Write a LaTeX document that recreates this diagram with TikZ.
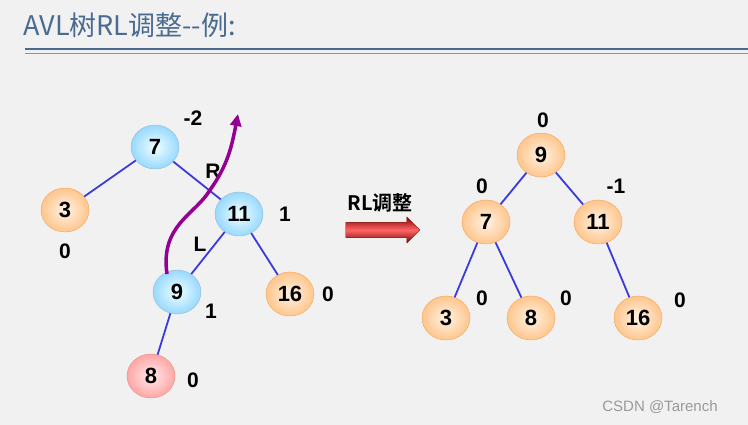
\documentclass[tikz,border=0pt]{standalone}
\usepackage{fontspec}
\setmainfont{Liberation Sans}
\newfontfamily\cjk{Noto Sans CJK SC}
\newfontfamily\cjkb{Noto Sans CJK SC Bold}
\usetikzlibrary{shapes.geometric,arrows.meta,shapes.arrows}
\definecolor{bg}{HTML}{F1F1F1}
\definecolor{titleblue}{HTML}{4A6A90}
\definecolor{edge}{HTML}{3A3ADF}
\tikzset{
  nd/.style={ellipse,minimum width=48pt,minimum height=44pt,inner sep=0pt,font=\fontsize{22}{22}\selectfont\bfseries},
  bluen/.style={nd,draw=cyan!40!gray!70,inner color=white!60!cyan!15,outer color=cyan!30!white!85!blue},
  orangen/.style={nd,draw=orange!70!brown!70,inner color=orange!10,outer color=orange!45},
  pinkn/.style={nd,draw=red!50!brown!60,inner color=red!8,outer color=red!35},
  lbl/.style={font=\fontsize{21}{21}\selectfont\bfseries},
  ed/.style={draw=edge,line width=1.8pt}
}
\begin{document}
\begin{tikzpicture}[x=1pt,y=-1pt]
\fill[bg] (0,0) rectangle (748,425);
\useasboundingbox (0,0) rectangle (748,425);
\node[anchor=west,text=titleblue,font=\cjk\fontsize{27}{27}\selectfont] (title) at (20,25) {AVL树RL调整--例:};
\draw[titleblue,line width=1.3pt] (25,49) -- (748,49);
\draw[titleblue!70,line width=0.6pt] (25,53.5) -- (748,53.5);
% left tree
\node[bluen] (a7) at (155,147) {7};
\node[orangen] (a3) at (65,210) {3};
\node[bluen] (a11) at (239,214) {11};
\node[bluen] (a9) at (177,292) {9};
\node[orangen] (a16) at (290,294) {16};
\node[pinkn] (a8) at (151,376) {8};
\path[ed] (a7) -- (a3);
\path[ed] (a7) -- (a11);
\path[ed] (a11) -- (a9);
\path[ed] (a11) -- (a16);
\path[ed] (a9) -- (a8);
\node[lbl] (l1) at (193,118) {-2};
\node[lbl] (l2) at (213,171) {R};
\node[lbl] (l3) at (285,214) {1};
\node[lbl] (l4) at (200,244) {L};
\node[lbl] (l5) at (65,251) {0};
\node[lbl] (l6) at (211,311) {1};
\node[lbl] (l7) at (328,294) {0};
\node[lbl] (l8) at (193,380) {0};
\coordinate (ps) at (167,274);
\coordinate (pe) at (238,114);
\draw[draw=violet!85!magenta,line width=3.5pt,-{Triangle[length=12pt,width=11pt]}] (ps) .. controls (160,225) and (195,215) .. (210,190) .. controls (228,165) and (232,145) .. (pe);
% arrow
\node[font=\cjkb\fontsize{20}{20}\selectfont] (rl) at (380,203) {RL调整};
\node[single arrow,draw=red!50!black,top color=red!55!black,bottom color=red!50!black,middle color=red!60,minimum height=74pt,minimum width=26pt,single arrow head extend=3pt,inner sep=4pt] (arr) at (379,230) {};
% right tree
\node[orangen] (b9) at (541,155) {9};
\node[orangen] (b7) at (486,222) {7};
\node[orangen] (b11) at (598,222) {11};
\node[orangen] (b3) at (446,318) {3};
\node[orangen] (b8) at (531,318) {8};
\node[orangen] (b16) at (638,318) {16};
\path[ed] (b9) -- (b7);
\path[ed] (b9) -- (b11);
\path[ed] (b7) -- (b3);
\path[ed] (b7) -- (b8);
\path[ed] (b11) -- (b16);
\node[lbl] (m1) at (543,120) {0};
\node[lbl] (m2) at (482,186) {0};
\node[lbl] (m3) at (616,186) {-1};
\node[lbl] (m4) at (482,298) {0};
\node[lbl] (m5) at (566,298) {0};
\node[lbl] (m6) at (680,300) {0};
\node[text=gray!80,font=\fontsize{15}{15}\selectfont] (csdn) at (660,407) {CSDN @Tarench};
\end{tikzpicture}
\end{document}
